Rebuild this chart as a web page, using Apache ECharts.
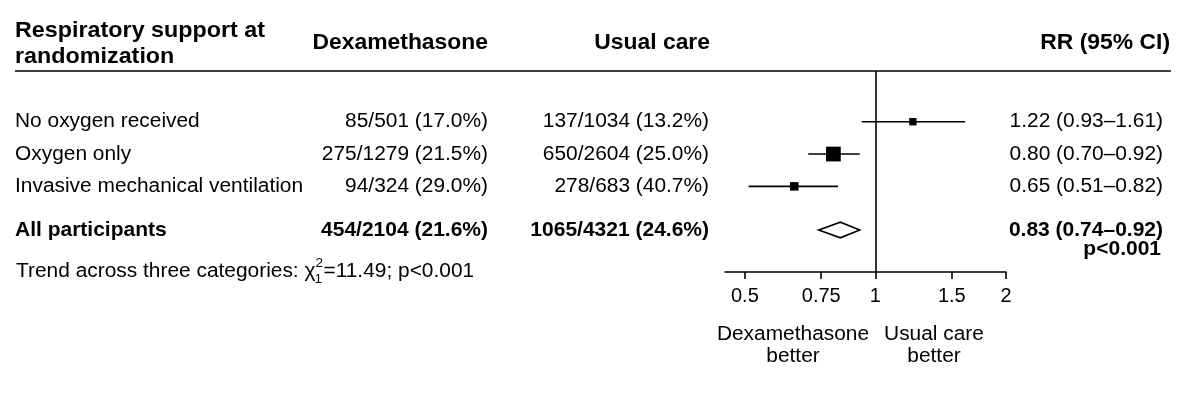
<!DOCTYPE html>
<html><head><meta charset="utf-8">
<script src="https://cdn.jsdelivr.net/npm/echarts@6/dist/echarts.min.js"></script>
<style>html,body{margin:0;padding:0;background:#fff}#c{width:1200px;height:395px}</style>
</head><body><div id="c"></div>
<script>
// ---- data ----
const groups = ['No oxygen received', 'Oxygen only', 'Invasive mechanical ventilation'];
const dexaText = ['85/501 (17.0%)', '275/1279 (21.5%)', '94/324 (29.0%)'];
const usualText = ['137/1034 (13.2%)', '650/2604 (25.0%)', '278/683 (40.7%)'];
const rrEst = [1.22, 0.80, 0.65];
const rrLow = [0.93, 0.70, 0.51];
const rrHigh = [1.61, 0.92, 0.82];
const overallLabel = 'All participants';
const overallDexa = '454/2104 (21.6%)';
const overallUsual = '1065/4321 (24.6%)';
const overallRR = [0.83, 0.74, 0.92];
const overallP = 'p<0.001';
const trendLabel = 'Trend across three categories: ';
const trendStat = '=11.49; p<0.001';
const tickValues = [0.5, 0.75, 1, 1.5, 2];
const tickLabels = ['0.5', '0.75', '1', '1.5', '2'];
const headers = ['Respiratory support at\nrandomization', 'Dexamethasone', 'Usual care', 'RR (95% CI)'];

// ---- layout ----
const FONT = '"Liberation Sans", Arial, Helvetica, sans-serif';
const SX = 1.045;
const LW = 1.6;
const colName = 15, colDexa = 488, colUsual = 709, colRR = 1163;
const overallRow = groups.length + 1.35;
const fmt = (e, l, h) => e.toFixed(2) + ' (' + l.toFixed(2) + '\u2013' + h.toFixed(2) + ')';
// square side proportional to precision (1/SE of log RR)
const sizes = rrEst.map((e, i) => 1.03 * (2 * 1.96) / (Math.log(rrHigh[i]) - Math.log(rrLow[i])));

const rowData = groups.map((g, i) => [i + 1, rrEst[i], rrLow[i], rrHigh[i], i]);

const chart = echarts.init(document.getElementById('c'), null, {renderer: 'canvas'});

function txt(x, y, s, opts, sx) {
  return {type: 'text', x: x, y: y, scaleX: sx || SX, style: Object.assign({
    text: s, fill: '#000', font: '20px ' + FONT, textAlign: 'left', textVerticalAlign: 'middle'
  }, opts || {})};
}

const cv = document.createElement('canvas').getContext('2d');
cv.font = '20px ' + FONT;
const trendW = cv.measureText(trendLabel + '\u03C7').width * SX;

chart.setOption({
  animation: false,
  grid: {left: 725, right: 194, top: 71, bottom: 123, containLabel: false},
  xAxis: {
    type: 'log', logBase: 2, min: 0.45, max: 2,
    axisLine: {show: true, onZero: false, lineStyle: {color: '#000', width: LW}},
    axisTick: {show: true, customValues: tickValues, length: 7, inside: false, lineStyle: {color: '#000', width: LW}},
    axisLabel: {
      show: true, customValues: tickValues, margin: 14, color: '#000', fontSize: 20, fontFamily: FONT,
      formatter: v => { let k = 0; tickValues.forEach((t, i) => { if (Math.abs(t - v) < Math.abs(tickValues[k] - v)) k = i; }); return tickLabels[k]; }
    },
    splitLine: {show: false}
  },
  yAxis: {type: 'value', inverse: true, min: -0.57, max: 5.65, show: false},
  graphic: [
    {type: 'line', shape: {x1: colName, y1: 71, x2: 1171, y2: 71}, style: {stroke: '#000', lineWidth: LW}},
    txt(colName, 44, headers[0], {font: 'bold 22px ' + FONT, lineHeight: 26}, 1.06),
    txt(colDexa, 43, headers[1], {font: 'bold 22px ' + FONT, textAlign: 'right'}, 1.04),
    txt(colUsual + 1, 43, headers[2], {font: 'bold 22px ' + FONT, textAlign: 'right'}, 1.04),
    txt(1170, 43, headers[3], {font: 'bold 22px ' + FONT, textAlign: 'right'}, 1.04),
    txt(793, 345, 'Dexamethasone\nbetter', {textAlign: 'center', lineHeight: 22}),
    txt(934, 345, 'Usual care\nbetter', {textAlign: 'center', lineHeight: 22})
  ],
  series: [
    {
      type: 'custom', name: 'rows', clip: false,
      data: rowData,
      encode: {x: [1, 2, 3], y: 0},
      renderItem: (params, api) => {
        const y = api.value(0), e = api.value(1), l = api.value(2), h = api.value(3), i = api.value(4);
        const pL = api.coord([l, y]), pH = api.coord([h, y]), pE = api.coord([e, y]);
        const s = sizes[i];
        return {type: 'group', children: [
          {type: 'line', shape: {x1: pL[0], y1: pL[1], x2: pH[0], y2: pH[1]}, style: {stroke: '#000', lineWidth: LW}},
          {type: 'rect', shape: {x: pE[0] - s / 2, y: pE[1] - s / 2, width: s, height: s}, style: {fill: '#000'}},
          txt(colName, pE[1], groups[i]),
          txt(colDexa, pE[1], dexaText[i], {textAlign: 'right'}),
          txt(colUsual, pE[1], usualText[i], {textAlign: 'right'}),
          txt(colRR, pE[1], fmt(e, l, h), {textAlign: 'right'})
        ]};
      },
      markLine: {
        symbol: 'none', silent: true, label: {show: false},
        lineStyle: {color: '#000', width: LW, type: 'solid'},
        data: [{xAxis: 1}]
      }
    },
    {
      type: 'custom', name: 'overall', clip: false,
      data: [[overallRow, overallRR[0], overallRR[1], overallRR[2]]],
      encode: {x: [1, 2, 3], y: 0},
      renderItem: (params, api) => {
        const y = api.value(0), e = api.value(1), l = api.value(2), h = api.value(3);
        const pL = api.coord([l, y]), pH = api.coord([h, y]), pE = api.coord([e, y]);
        const hh = 7.8;
        const pP = api.coord([e, y + 0.58]);
        const pT = api.coord([e, y + 1.27]);
        return {type: 'group', children: [
          {type: 'polygon', shape: {points: [[pL[0], pE[1]], [pE[0], pE[1] - hh], [pH[0], pE[1]], [pE[0], pE[1] + hh]]},
           style: {fill: '#fff', stroke: '#000', lineWidth: LW}},
          txt(colName, pE[1], overallLabel, {font: 'bold 21px ' + FONT}, 1.0),
          txt(colDexa, pE[1], overallDexa, {font: 'bold 21px ' + FONT, textAlign: 'right'}, 1.0),
          txt(colUsual, pE[1], overallUsual, {font: 'bold 21px ' + FONT, textAlign: 'right'}, 1.0),
          txt(colRR, pE[1], fmt(e, l, h), {font: 'bold 21px ' + FONT, textAlign: 'right'}, 1.0),
          txt(colRR - 2, pP[1], overallP, {font: 'bold 21px ' + FONT, textAlign: 'right'}, 1.0),
          txt(16, pT[1], trendLabel + '\u03C7'),
          txt(16 + trendW, pT[1] - 8, '2', {font: '13px ' + FONT}),
          txt(16 + trendW - 1, pT[1] + 8, '1', {font: '13px ' + FONT}),
          txt(16 + trendW + 8, pT[1], trendStat)
        ]};
      }
    }
  ]
});
</script></body></html>
